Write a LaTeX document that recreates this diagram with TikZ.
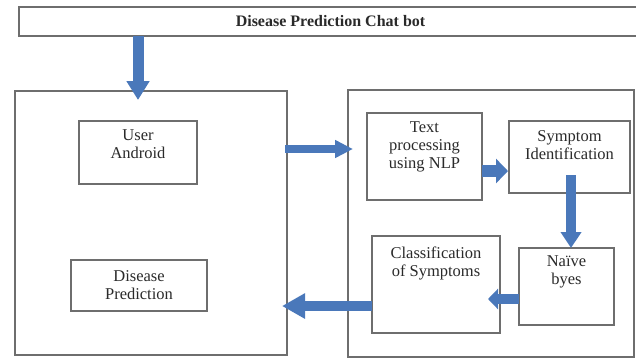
\documentclass[tikz,border=0pt]{standalone}
\usepackage{fontspec}
\setmainfont{Liberation Serif}
\usetikzlibrary{arrows.meta,calc,positioning}
\definecolor{arrowblue}{HTML}{4A78BA}
\definecolor{boxgray}{HTML}{6E6E6E}
\definecolor{txtgray}{HTML}{2A2A2A}
\begin{document}
\begin{tikzpicture}[x=1pt,y=-1pt,
  box/.style={draw=boxgray,line width=1.1pt,inner sep=0pt,outer sep=0pt,rectangle,fill=white},
  txt/.style={inner sep=0pt,outer sep=0pt,align=center,text=txtgray,font=\fontsize{16.5}{18}\selectfont},
  barrow/.style n args={3}{draw=arrowblue,line width=#1,-{Triangle[width=#2,length=#3]}}]
\useasboundingbox (0,0) rectangle (636,360);
\clip (0,0) rectangle (636,360);
\fill[white] (0,0) rectangle (636,360);
% title
\node[box,minimum width=623pt,minimum height=29pt] (title) at (330.5,21.5) {};
\node[txt,font=\bfseries\fontsize{16}{18}\selectfont] (titlet) at (title.center) {Disease Prediction Chat bot};
% left container
\node[box,minimum width=272pt,minimum height=264pt] (leftbox) at (151,223) {};
\node[box,minimum width=118pt,minimum height=63pt] (ua) at (138,152.5) {};
\node[txt,below=8.8pt of ua.north] (uat) {User\\Android};
\node[box,minimum width=136pt,minimum height=51pt] (dp) at (139,285.5) {};
\node[txt] (dpt) at (dp.center) {Disease\\Prediction};
% right container
\node[box,minimum width=286pt,minimum height=267pt] (rightbox) at (491,223.5) {};
\node[box,minimum width=115pt,minimum height=87pt] (tp) at (424.5,156.5) {};
\node[txt,below=8.8pt of tp.north] (tpt) {Text\\processing\\using NLP};
\node[box,minimum width=121pt,minimum height=72pt] (si) at (569.5,157) {};
\node[txt,below=9.6pt of si.north] (sit) {Symptom\\Identification};
\node[box,minimum width=95pt,minimum height=77pt] (nb) at (566.5,286.5) {};
\node[txt,below=7.5pt of nb.north] (nbt) {Naïve\\byes};
\node[box,minimum width=128pt,minimum height=97pt] (cl) at (436,284.5) {};
\node[txt,below=11pt of cl.north] (clt) {Classification\\of Symptoms};
% connector end points
\coordinate (a1s) at (title.south -| ua.north);
\coordinate (a1e) at ($(leftbox.north -| ua.north)+(0,9)$);
\coordinate (a2s) at ($(leftbox.east)+(-2,-74)$);
\coordinate (a2e) at ($(rightbox.west |- a2s)+(5,0)$);
\coordinate (a3s) at ($(tp.east)+(0,14.5)$);
\coordinate (a3e) at ($(si.west |- a3s)+(-1,0)$);
\coordinate (a4s) at ($(si.south)+(1.5,-18)$);
\coordinate (a4e) at (nb.north -| a4s);
\coordinate (a5s) at ($(nb.west)+(0,12.5)$);
\coordinate (a5e) at ($(cl.east |- a5s)+(-12,0)$);
\coordinate (a6s) at ($(cl.west)+(0,21.5)$);
\coordinate (a6e) at ($(leftbox.east |- a6s)+(-5,0)$);
% arrows
\draw[barrow={11pt}{22pt}{19pt}] (a1s) -- (a1e);
\draw[barrow={8pt}{17pt}{18pt}] (a2s) -- (a2e);
\draw[barrow={12pt}{24pt}{12pt}] (a3s) -- (a3e);
\draw[barrow={10pt}{20pt}{16pt}] (a4s) -- (a4e);
\draw[barrow={10pt}{20pt}{10pt}] (a5s) -- (a5e);
\draw[barrow={10pt}{24pt}{23pt}] (a6s) -- (a6e);
\end{tikzpicture}
\end{document}
